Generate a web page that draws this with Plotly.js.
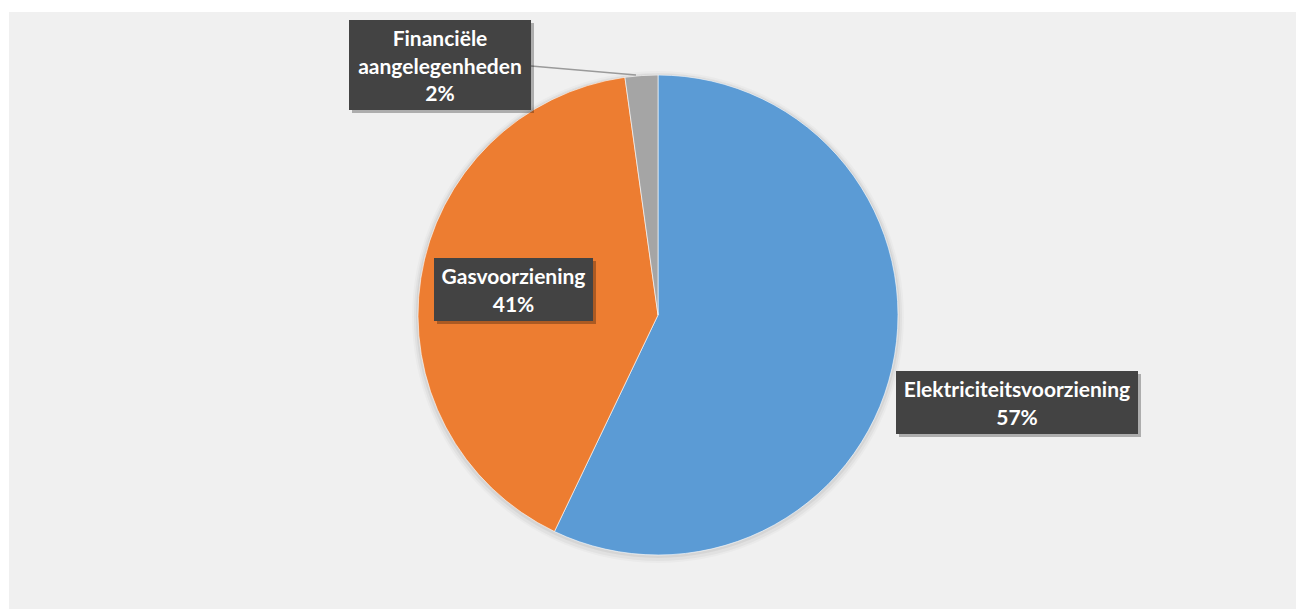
<!DOCTYPE html>
<html>
<head>
<meta charset="utf-8">
<script src="https://cdn.plot.ly/plotly-3.0.1.min.js"></script>
<style>
html,body{margin:0;padding:0;background:#ffffff;width:1296px;height:609px;overflow:hidden;}
#chart{position:absolute;left:9px;top:12px;width:1287px;height:597px;}
</style>
</head>
<body>
<div id="chart"></div>
<script>
// Data
const categories = ["Elektriciteitsvoorziening", "Gasvoorziening", "Financiële aangelegenheden"];
const values = [57.1, 40.7, 2.2];
const labelTexts = ["Elektriciteitsvoorziening<br>57%", "Gasvoorziening<br>41%", "Financiële<br>aangelegenheden<br>2%"];
const colors = ["#5B9BD5", "#ED7D31", "#A5A5A5"];

const W = 1287, H = 597, OX = 9, OY = 12;
const px = p => (p - OX) / W;
const py = p => 1 - (p - OY) / H;

const pieDomain = {x: [px(418), px(898)], y: [py(555), py(75)]};

function shadowPie(grow, dy, alpha) {
  return {
    type: 'pie', values: [1], labels: ['s'], sort: false,
    marker: {colors: ['rgba(0,0,0,' + alpha + ')'], line: {width: 0}},
    textinfo: 'none', hoverinfo: 'skip', showlegend: false,
    domain: {x: [px(418 - grow), px(898 + grow)], y: [py(555 + grow + dy), py(75 - grow + dy)]}
  };
}

const traces = [
  shadowPie(6, 2, 0.025),
  shadowPie(4, 2, 0.035),
  shadowPie(2, 1, 0.05),
  {
    type: 'pie',
    labels: categories,
    values: values,
    sort: false,
    direction: 'clockwise',
    rotation: 0,
    marker: {colors: colors, line: {color: 'rgba(255,255,255,0.6)', width: 1}},
    textinfo: 'none',
    hoverinfo: 'label+percent',
    showlegend: false,
    domain: pieDomain
  }
];

// label boxes: [centerX, centerY, width, height] in pixels
const boxes = [
  [1017, 402.5, 242, 63],
  [513.5, 289.5, 159, 63],
  [440, 65, 182, 90]
];

const annotations = [];
boxes.forEach((b, i) => {
  annotations.push({
    xref: 'paper', yref: 'paper', x: px(b[0]), y: py(b[1]),
    xanchor: 'center', yanchor: 'middle', xshift: 3, yshift: -3,
    text: ' ', showarrow: false, width: b[2], height: b[3],
    bgcolor: 'rgba(0,0,0,0.28)', borderpad: 0, borderwidth: 0
  });
  annotations.push({
    xref: 'paper', yref: 'paper', x: px(b[0]), y: py(b[1]),
    xanchor: 'center', yanchor: 'middle',
    text: '<b>' + labelTexts[i] + '</b>', showarrow: false,
    width: b[2], height: b[3], align: 'center', valign: 'middle',
    bgcolor: '#434343', borderpad: 0, borderwidth: 0,
    font: {family: 'Lato, "Open Sans", sans-serif', size: 21, color: '#ffffff'}
  });
});

const layout = {
  width: W, height: H,
  margin: {l: 0, r: 0, t: 0, b: 0},
  paper_bgcolor: '#f0f0f0',
  showlegend: false,
  shapes: [{
    type: 'line', xref: 'paper', yref: 'paper',
    x0: px(531), y0: py(66), x1: px(636), y1: py(75),
    line: {color: '#9a9a9a', width: 1.5}
  }],
  annotations: annotations
};

Plotly.newPlot('chart', traces, layout, {displayModeBar: false, staticPlot: true});
</script>
</body>
</html>
